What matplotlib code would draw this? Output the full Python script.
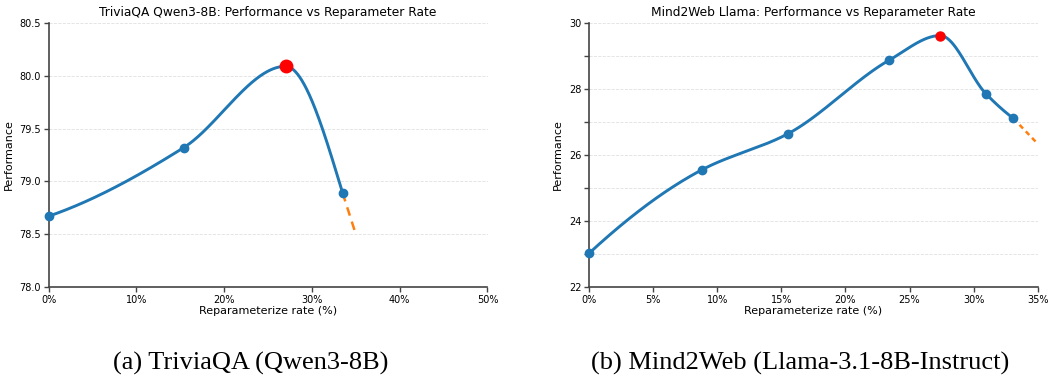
import numpy as np
import matplotlib
matplotlib.use("Agg")
import matplotlib.pyplot as plt
from matplotlib.ticker import FuncFormatter, MultipleLocator

# ---- data ----
tqa_rate = [0.0, 15.4, 27.0, 33.5]
tqa_perf = [78.67, 79.32, 80.09, 78.89]
tqa_best = 2
tqa_ext_rate = [33.5, 35.0]
tqa_ext_perf = [78.89, 78.50]

m2w_rate = [0.0, 8.8, 15.5, 23.4, 27.4, 30.95, 33.1]
m2w_perf = [23.02, 25.55, 26.64, 28.87, 29.62, 27.86, 27.11]
m2w_best = 4
m2w_ext_rate = [33.1, 35.0]
m2w_ext_perf = [27.11, 26.34]

titles = ["TriviaQA Qwen3-8B: Performance vs Reparameter Rate",
          "Mind2Web Llama: Performance vs Reparameter Rate"]
captions = ["(a) TriviaQA (Qwen3-8B)", "(b) Mind2Web (Llama-3.1-8B-Instruct)"]


def pchip(x, y, xs):
    x = np.asarray(x, float); y = np.asarray(y, float)
    h = np.diff(x); d = np.diff(y) / h
    n = len(x)
    m = np.zeros(n)
    for k in range(1, n - 1):
        if d[k - 1] * d[k] <= 0:
            m[k] = 0.0
        else:
            w1 = 2 * h[k] + h[k - 1]; w2 = h[k] + 2 * h[k - 1]
            m[k] = (w1 + w2) / (w1 / d[k - 1] + w2 / d[k])

    def endp(h0, h1, d0, d1):
        v = ((2 * h0 + h1) * d0 - h0 * d1) / (h0 + h1)
        if np.sign(v) != np.sign(d0):
            v = 0.0
        elif np.sign(d0) != np.sign(d1) and abs(v) > abs(3 * d0):
            v = 3 * d0
        return v
    m[0] = endp(h[0], h[1], d[0], d[1])
    m[-1] = endp(h[-1], h[-2], d[-1], d[-2])
    xs = np.asarray(xs)
    idx = np.clip(np.searchsorted(x, xs) - 1, 0, n - 2)
    t = (xs - x[idx]) / h[idx]
    h00 = 2 * t**3 - 3 * t**2 + 1; h10 = t**3 - 2 * t**2 + t
    h01 = -2 * t**3 + 3 * t**2; h11 = t**3 - t**2
    return h00 * y[idx] + h10 * h[idx] * m[idx] + h01 * y[idx + 1] + h11 * h[idx] * m[idx + 1]


fig = plt.figure(figsize=(10.48, 3.77), dpi=100)
ax1 = fig.add_axes([48.5 / 1048, 90 / 377, 439 / 1048, 264 / 377])
ax2 = fig.add_axes([589 / 1048, 90 / 377, 448.7 / 1048, 264 / 377])

blue = "#1f77b4"; orange = "#ff7f0e"
pct = FuncFormatter(lambda v, p: f"{v:.0f}%")

specs = [
    (ax1, tqa_rate, tqa_perf, tqa_best, tqa_ext_rate, tqa_ext_perf, (0, 50), (78.0, 80.5), 10, 0.5, None, 9.0, (0, (3.5, 2.5))),
    (ax2, m2w_rate, m2w_perf, m2w_best, m2w_ext_rate, m2w_ext_perf, (0, 35), (22, 30), 5, 2, 1, 6.5, (0, (2, 1.6))),
]
for i, (ax, xr, yp, best, ex, ey, xl, yl, xmaj, ymaj, ymin, rsize, dash) in enumerate(specs):
    xs = np.linspace(xr[0], xr[-1], 400)
    ax.plot(xs, pchip(xr, yp, xs), color=blue, lw=2.1, zorder=3)
    ax.plot(ex, ey, color=orange, lw=1.8, linestyle=dash, zorder=3)
    others = [j for j in range(len(xr)) if j != best]
    ax.plot([xr[j] for j in others], [yp[j] for j in others], "o", color=blue,
            ms=6.0, zorder=4, clip_on=False)
    ax.plot([xr[best]], [yp[best]], "o", color="red", ms=rsize, zorder=5, clip_on=False)
    ax.set_xlim(*xl); ax.set_ylim(*yl)
    ax.xaxis.set_major_locator(MultipleLocator(xmaj))
    ax.xaxis.set_major_formatter(pct)
    ax.yaxis.set_major_locator(MultipleLocator(ymaj))
    if ymin:
        ax.yaxis.set_minor_locator(MultipleLocator(ymin))
        ax.grid(True, axis="y", which="both", linestyle="--", lw=0.6, color="#e0e0e0", zorder=0)
    else:
        ax.grid(True, axis="y", which="major", linestyle="--", lw=0.6, color="#e0e0e0", zorder=0)
    if i == 0:
        ax.yaxis.set_major_formatter(FuncFormatter(lambda v, p: f"{v:.1f}"))
    for s in ["top", "right"]:
        ax.spines[s].set_visible(False)
    for s in ["left", "bottom"]:
        ax.spines[s].set_color("#444444"); ax.spines[s].set_linewidth(1.2)
    ax.tick_params(axis="both", which="both", labelsize=7, color="#444444", width=1.0, length=3.5, pad=2)
    ax.set_xlabel("Reparameterize rate (%)", fontsize=8, labelpad=1)
    ax.set_ylabel("Performance", fontsize=8, labelpad=4)
    ax.set_title(titles[i], fontsize=8.8, pad=5)

fig.text(251 / 1048, 1 - 370 / 377, captions[0], ha="center", va="baseline",
         fontsize=19, family="Liberation Serif")
fig.text(800 / 1048, 1 - 370 / 377, captions[1], ha="center", va="baseline",
         fontsize=19, family="Liberation Serif")

fig.savefig("out.png", dpi=100)
